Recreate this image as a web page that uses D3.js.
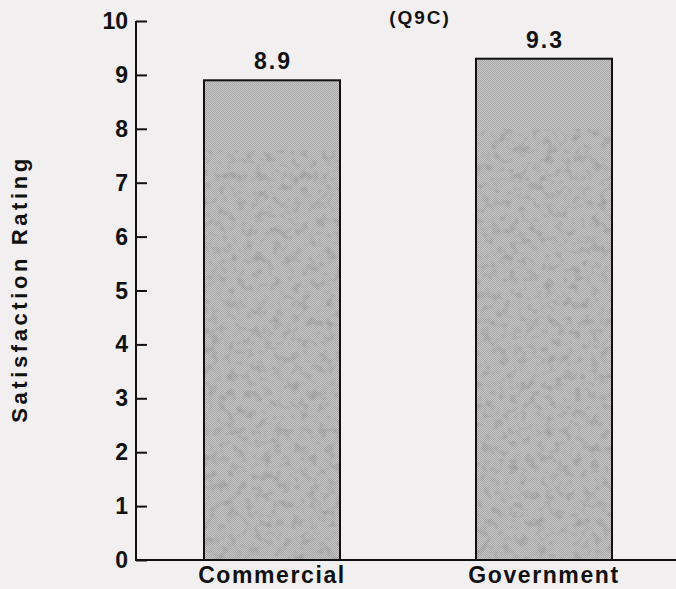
<!DOCTYPE html>
<html>
<head>
<meta charset="utf-8">
<script src="https://cdn.jsdelivr.net/npm/d3@7"></script>
<style>
  html, body { margin: 0; padding: 0; background: #f2eff0; }
  svg { display: block; }
  text { font-family: "Liberation Sans", Arial, Helvetica, sans-serif; fill: #111; }
</style>
</head>
<body>
<svg id="chart" width="676" height="589"></svg>
<script>
// Satisfaction ratings by sector
const categories = ["Commercial", "Government"];
const ratings = [8.9, 9.3];
const yTicks = [0, 1, 2, 3, 4, 5, 6, 7, 8, 9, 10];
const subtitle = "(Q9C)";
const yTitle = "Satisfaction Rating";

const svg = d3.select("#chart");
const W = 676, H = 589;
const axisX = 136, baseY = 560, topY = 21;

const y = d3.scaleLinear().domain([0, 10]).range([baseY, topY]);
const x = d3.scaleBand().domain(categories).range([136, 680]).paddingInner(0.5).paddingOuter(0.25);

// Dithered grey fill and mottled shading for the bars
const defs = svg.append("defs");
const pat = defs.append("pattern").attr("id", "dither")
  .attr("width", 2).attr("height", 2).attr("patternUnits", "userSpaceOnUse");
pat.append("rect").attr("width", 2).attr("height", 2).attr("fill", "#c6c6c6");
pat.append("rect").attr("width", 1).attr("height", 1).attr("fill", "#a8a8a8");
pat.append("rect").attr("x", 1).attr("y", 1).attr("width", 1).attr("height", 1).attr("fill", "#a8a8a8");

const mottle = defs.append("filter").attr("id", "mottle")
  .attr("x", 0).attr("y", 0).attr("width", 1).attr("height", 1);
mottle.append("feTurbulence").attr("type", "fractalNoise")
  .attr("baseFrequency", 0.11).attr("numOctaves", 3).attr("seed", 7).attr("result", "noise");
mottle.append("feColorMatrix").attr("in", "noise").attr("type", "matrix")
  .attr("values", "0 0 0 0 0.3  0 0 0 0 0.3  0 0 0 0 0.3  -2.8 0 0 0 1.45")
  .attr("result", "spots");
mottle.append("feComposite").attr("in", "spots").attr("in2", "SourceGraphic").attr("operator", "in");

// Bars
const bars = svg.append("g");
categories.forEach((c, i) => {
  const bx = x(c), bw = x.bandwidth(), v = ratings[i];
  bars.append("rect")
    .attr("x", bx).attr("y", y(v)).attr("width", bw).attr("height", y(0) - y(v))
    .attr("fill", "url(#dither)");
  bars.append("rect")
    .attr("x", bx + 1).attr("y", y(v - 1.3)).attr("width", bw - 2).attr("height", y(0) - y(v - 1.3))
    .attr("fill", "#8a8a8a").attr("opacity", 0.6).attr("filter", "url(#mottle)");
  bars.append("rect")
    .attr("x", bx).attr("y", y(v)).attr("width", bw).attr("height", y(0) - y(v))
    .attr("fill", "none").attr("stroke", "#111").attr("stroke-width", 2);
  svg.append("text")
    .attr("x", bx + bw / 2 + 1).attr("y", y(v) - 11)
    .attr("text-anchor", "middle")
    .style("font-size", "23px").style("font-weight", "bold").style("letter-spacing", "2px")
    .text(v.toFixed(1));
});

// Y axis with inward ticks
const yAxis = d3.axisRight(y).tickValues(yTicks).tickSize(11).tickFormat("");
const ga = svg.append("g").attr("transform", `translate(${axisX},0)`).call(yAxis);
ga.select(".domain").attr("d", `M0,${topY}V${baseY}`).attr("stroke", "#111").attr("stroke-width", 2);
ga.selectAll(".tick line").attr("stroke", "#111").attr("stroke-width", 2);

svg.append("g").selectAll("text").data(yTicks).join("text")
  .attr("x", 128).attr("y", d => y(d) + 8)
  .attr("text-anchor", "end")
  .style("font-size", "23px").style("font-weight", "bold")
  .text(d => d);

// Baseline
svg.append("line").attr("x1", axisX - 1).attr("x2", W).attr("y1", baseY).attr("y2", baseY)
  .attr("stroke", "#111").attr("stroke-width", 2);

// Category labels
svg.append("g").selectAll("text").data(categories).join("text")
  .attr("x", d => x(d) + x.bandwidth() / 2).attr("y", 583)
  .attr("text-anchor", "middle")
  .style("font-size", "23px").style("font-weight", "bold").style("letter-spacing", "1.6px")
  .text(d => d);

// Subtitle
svg.append("text").attr("x", 420).attr("y", 24).attr("text-anchor", "middle")
  .style("font-size", "19px").style("font-weight", "bold").style("letter-spacing", "2px")
  .text(subtitle);

// Y axis title
svg.append("text")
  .attr("transform", "translate(27,289) rotate(-90)")
  .attr("text-anchor", "middle")
  .style("font-size", "22px").style("font-weight", "bold").style("letter-spacing", "3.6px")
  .text(yTitle);
</script>
</body>
</html>
